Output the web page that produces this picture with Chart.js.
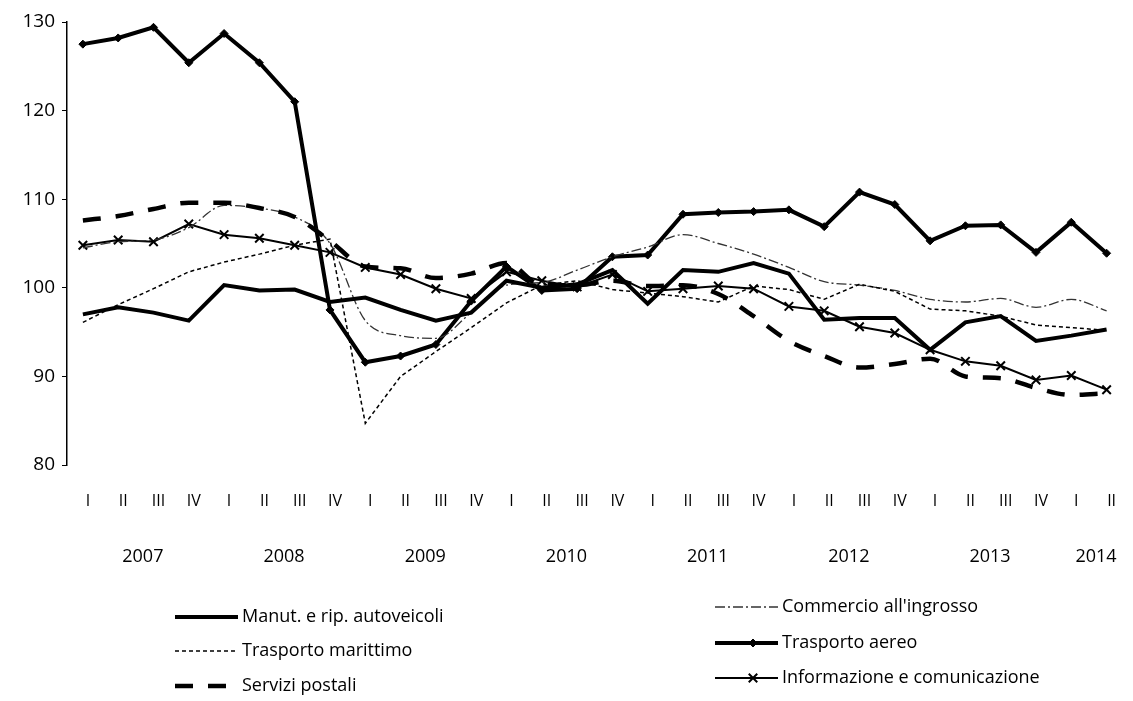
<!DOCTYPE html>
<html>
<head>
<meta charset="utf-8">
<script src="https://cdn.jsdelivr.net/npm/chart.js@4.4.1/dist/chart.umd.min.js"></script>
<style>
  html, body { margin: 0; padding: 0; background: #fff; }
</style>
</head>
<body>
<canvas id="chart" width="1133" height="701"></canvas>
<script>
const quarters = ['I','II','III','IV','I','II','III','IV','I','II','III','IV','I','II','III','IV',
                  'I','II','III','IV','I','II','III','IV','I','II','III','IV','I','II'];
const years = ['2007','2008','2009','2010','2011','2012','2013','2014'];
const yearTicks = [1.5, 5.5, 9.5, 13.5, 17.5, 21.5, 25.5, 28.5];
const yTicks = [80, 90, 100, 110, 120, 130];

const manut = [97.0, 97.8, 97.2, 96.3, 100.3, 99.7, 99.8, 98.4, 98.9, 97.5, 96.3, 97.2, 100.8, 100.0, 100.4,
               102.0, 98.2, 102.0, 101.8, 102.8, 101.6, 96.4, 96.6, 96.6, 93.0, 96.1, 96.8, 94.0, 94.6, 95.3];
const marittimo = [96.1, 98.1, 99.9, 101.8, 102.9, 103.8, 104.8, 105.5, 84.7, 90.0, 92.8, 95.5, 98.3, 100.3, 100.8,
                   99.8, 99.4, 99.0, 98.4, 100.2, 99.8, 98.7, 100.4, 99.6, 97.6, 97.4, 96.8, 95.8, 95.5, 95.2];
const postali = [107.6, 108.1, 108.9, 109.6, 109.6, 109.0, 108.0, 105.3, 102.4, 102.2, 101.1, 101.6, 102.8, 100.3, 100.3,
                 100.8, 100.2, 100.3, 99.3, 96.8, 94.0, 92.3, 91.0, 91.4, 92.0, 90.0, 89.8, 88.7, 87.9, 88.1];
const commercio = [104.5, 105.2, 105.4, 106.8, 109.3, 109.0, 108.0, 105.0, 96.3, 94.6, 94.3, 97.2, 100.3, 100.6, 102.0,
                   103.5, 104.6, 106.0, 105.0, 103.8, 102.3, 100.7, 100.3, 99.7, 98.7, 98.4, 98.8, 97.8, 98.7, 97.4];
const aereo = [127.5, 128.2, 129.4, 125.4, 128.7, 125.4, 121.0, 97.5, 91.6, 92.3, 93.6, 98.5, 102.4, 99.7, 99.9,
               103.5, 103.7, 108.3, 108.5, 108.6, 108.8, 106.9, 110.8, 109.4, 105.3, 107.0, 107.1, 104.0, 107.4, 103.9];
const informazione = [104.8, 105.4, 105.2, 107.2, 106.0, 105.6, 104.8, 104.0, 102.3, 101.5, 99.9, 98.8, 101.8, 100.8, 100.1,
                      101.5, 99.6, 99.9, 100.2, 99.9, 97.9, 97.4, 95.6, 94.9, 93.0, 91.7, 91.2, 89.6, 90.1, 88.5];

const FONT = "'Open Sans', sans-serif";

function pts(values) {
  return values.map((v, i) => ({ x: i, y: v }));
}

// legend drawn in two columns like the original
const legendLayout = [
  { ds: 0, x: 175, y: 617 },
  { ds: 1, x: 175, y: 651 },
  { ds: 2, x: 175, y: 686 },
  { ds: 3, x: 715, y: 607 },
  { ds: 4, x: 715, y: 643 },
  { ds: 5, x: 715, y: 678 }
];

const twoColLegend = {
  id: 'twoColLegend',
  afterDraw(chart) {
    const ctx = chart.ctx;
    ctx.save();
    legendLayout.forEach(item => {
      const ds = chart.data.datasets[item.ds];
      ctx.strokeStyle = ds.borderColor;
      ctx.lineWidth = ds.borderWidth;
      ctx.setLineDash(ds.borderDash || []);
      ctx.beginPath();
      ctx.moveTo(item.x, item.y);
      ctx.lineTo(item.x + 63, item.y);
      ctx.stroke();
      ctx.setLineDash([]);
      if (ds.pointStyle && ds.pointRadius > 0) {
        ctx.fillStyle = ds.pointBackgroundColor;
        ctx.strokeStyle = ds.pointBorderColor;
        ctx.lineWidth = ds.pointBorderWidth;
        Chart.helpers.drawPoint(ctx, { pointStyle: ds.pointStyle, radius: ds.pointRadius, borderWidth: ds.pointBorderWidth },
          item.x + 38, item.y);
      }
      ctx.fillStyle = '#000';
      ctx.font = '18px ' + FONT;
      ctx.textBaseline = 'middle';
      ctx.fillText(ds.label, item.x + 67, item.y);
    });
    ctx.restore();
  }
};

const config = {
  type: 'line',
  data: {
    datasets: [
      { label: 'Manut. e rip. autoveicoli', data: pts(manut), borderColor: '#000', borderWidth: 4,
        pointRadius: 0, tension: 0 },
      { label: 'Trasporto marittimo', data: pts(marittimo), borderColor: '#000', borderWidth: 1.5,
        borderDash: [4, 3], pointRadius: 0, tension: 0 },
      { label: 'Servizi postali', data: pts(postali), borderColor: '#000', borderWidth: 4.5,
        borderDash: [18, 15], pointRadius: 0, cubicInterpolationMode: 'monotone' },
      { label: "Commercio all'ingrosso", data: pts(commercio), borderColor: '#333', borderWidth: 1.3,
        borderDash: [10, 3, 2, 3], pointRadius: 0, cubicInterpolationMode: 'monotone' },
      { label: 'Trasporto aereo', data: pts(aereo), borderColor: '#000', borderWidth: 4,
        pointStyle: 'rectRot', pointRadius: 4, pointBackgroundColor: '#000', pointBorderColor: '#000',
        pointBorderWidth: 1, tension: 0 },
      { label: 'Informazione e comunicazione', data: pts(informazione), borderColor: '#000', borderWidth: 2,
        pointStyle: 'crossRot', pointRadius: 6, pointBackgroundColor: '#000', pointBorderColor: '#000',
        pointBorderWidth: 2, tension: 0 }
    ]
  },
  options: {
    responsive: false,
    animation: false,
    layout: { padding: { top: 22, right: 8, bottom: 131, left: 0 } },
    plugins: {
      legend: { display: false },
      tooltip: { enabled: false }
    },
    scales: {
      x: {
        type: 'linear',
        position: 'bottom',
        min: -0.45,
        max: 29.2,
        grid: { display: false },
        border: { display: false },
        afterBuildTicks: s => { s.ticks = quarters.map((q, i) => ({ value: i })); },
        afterFit: s => { s.height = 50; },
        ticks: {
          autoSkip: false,
          maxRotation: 0,
          padding: 19,
          labelOffset: 5,
          color: '#000',
          font: { family: FONT, size: 16 },
          callback: v => quarters[Math.round(v)]
        }
      },
      xYears: {
        type: 'linear',
        position: 'bottom',
        min: -0.45,
        max: 29.2,
        grid: { display: false },
        border: { display: false },
        afterBuildTicks: s => { s.ticks = yearTicks.map(v => ({ value: v })); },
        afterFit: s => { s.height = 55; },
        ticks: {
          autoSkip: false,
          maxRotation: 0,
          padding: 23,
          labelOffset: 7,
          color: '#000',
          font: { family: FONT, size: 18 },
          callback: v => years[yearTicks.indexOf(v)]
        }
      },
      y: {
        min: 80,
        max: 130,
        afterBuildTicks: s => { s.ticks = yTicks.map(v => ({ value: v })); },
        afterFit: s => { s.width = 67; },
        grid: { drawOnChartArea: false, drawTicks: true, tickLength: 5, color: '#000' },
        border: { display: true, color: '#000', width: 1.5 },
        ticks: {
          padding: 7,
          color: '#000',
          font: { family: FONT, size: 19 }
        }
      }
    }
  },
  plugins: [twoColLegend]
};

const chart = new Chart(document.getElementById('chart').getContext('2d'), config);
</script>
</body>
</html>
